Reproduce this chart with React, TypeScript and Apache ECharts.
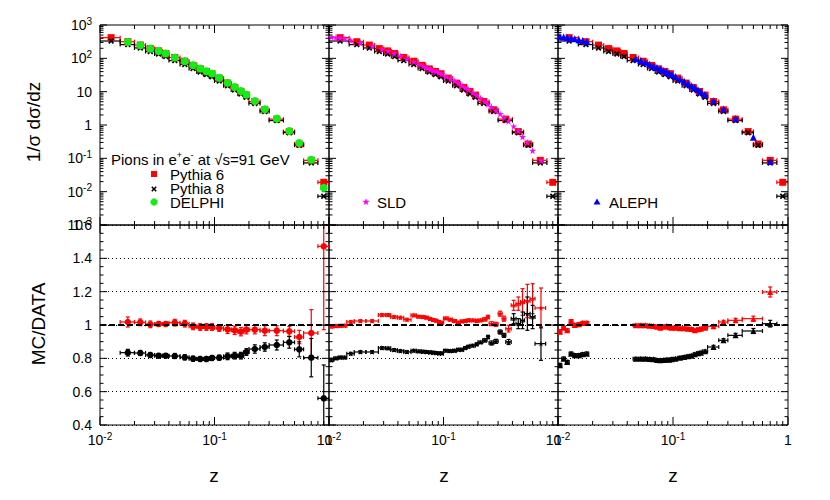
import React, { useEffect, useRef } from "react";
import * as echarts from "echarts";

const FONT = "'Liberation Sans', Arial, Helvetica, sans-serif";

// ---------------- MC spectra (same binning in the three upper panels) ----------------
const mcBinEdges = [0.01, 0.015, 0.02, 0.025, 0.03, 0.035, 0.04, 0.05, 0.06, 0.07, 0.08, 0.09, 0.1, 0.12, 0.14, 0.16, 0.18, 0.2, 0.25, 0.3, 0.4, 0.5, 0.6, 0.8, 1.0];
const mcZ = [0.0125, 0.0175, 0.0225, 0.0275, 0.0325, 0.0375, 0.045, 0.055, 0.065, 0.075, 0.085, 0.095, 0.11, 0.13, 0.15, 0.17, 0.19, 0.225, 0.275, 0.35, 0.45, 0.55, 0.7, 0.9];
const pythia6Spectrum = [417, 315, 250, 196, 167, 140, 106, 82, 61.5, 48.4, 40.5, 34.6, 25.5, 18.1, 13.4, 10.1, 7.9, 5.05, 2.85, 1.5, 0.635, 0.269, 0.087, 0.0191];
const pythia8Spectrum = [331, 258, 205, 160, 135, 113, 85.5, 65.3, 49.5, 39, 32.6, 28.1, 20.9, 15.1, 11.3, 8.57, 6.79, 4.45, 2.56, 1.36, 0.59, 0.248, 0.073, 0.0073];

// ---------------- DELPHI ----------------
const delphiBinEdges = [0.015, 0.02, 0.025, 0.03, 0.035, 0.04, 0.05, 0.06, 0.07, 0.08, 0.09, 0.1, 0.12, 0.14, 0.16, 0.18, 0.2, 0.25, 0.3, 0.4, 0.5, 0.6, 0.8, 1.0];
const delphiZ = [0.0175, 0.0225, 0.0275, 0.0325, 0.0375, 0.045, 0.055, 0.065, 0.075, 0.085, 0.095, 0.11, 0.13, 0.15, 0.17, 0.19, 0.225, 0.275, 0.35, 0.45, 0.55, 0.7, 0.9];
const delphiSpectrum = [309, 246, 195, 166, 139, 105, 81, 62, 49, 41, 35, 26, 18.6, 13.8, 10.5, 8.1, 5.2, 2.95, 1.55, 0.66, 0.29, 0.091, 0.013];
const delphiRatioP6 = [1.018, 1.016, 1.004, 1.006, 1.006, 1.014, 1.008, 0.992, 0.988, 0.988, 0.988, 0.982, 0.974, 0.968, 0.96, 0.972, 0.972, 0.966, 0.966, 0.962, 0.928, 0.952, 1.472];
const delphiRatioP6Err = [0.03, 0.02, 0.02, 0.015, 0.015, 0.02, 0.02, 0.02, 0.02, 0.02, 0.02, 0.02, 0.025, 0.025, 0.025, 0.025, 0.025, 0.03, 0.03, 0.03, 0.04, 0.14, 0.5];
const delphiRatioP8 = [0.834, 0.832, 0.82, 0.816, 0.816, 0.814, 0.806, 0.798, 0.796, 0.796, 0.802, 0.804, 0.812, 0.816, 0.816, 0.838, 0.856, 0.868, 0.88, 0.896, 0.854, 0.804, 0.56];
const delphiRatioP8Err = [0.02, 0.015, 0.015, 0.012, 0.012, 0.015, 0.015, 0.015, 0.015, 0.015, 0.015, 0.015, 0.02, 0.02, 0.02, 0.02, 0.025, 0.025, 0.03, 0.035, 0.045, 0.115, 0.2];

// ---------------- SLD ----------------
const sldBinEdges = [0.01, 0.011, 0.012, 0.013, 0.0143, 0.0166, 0.021, 0.027, 0.031, 0.0346, 0.0395, 0.045, 0.052, 0.058, 0.064, 0.069, 0.074, 0.079, 0.084, 0.089, 0.094, 0.1, 0.11, 0.12, 0.13, 0.14, 0.15, 0.16, 0.17, 0.19, 0.2, 0.22, 0.24, 0.25, 0.275, 0.3, 0.325, 0.35, 0.39, 0.43, 0.47, 0.51, 0.57, 0.63, 0.78];
const sldZ = [0.0105, 0.0115, 0.0125, 0.0137, 0.0155, 0.0188, 0.0238, 0.029, 0.0328, 0.037, 0.042, 0.048, 0.055, 0.061, 0.0665, 0.0715, 0.0765, 0.0815, 0.0865, 0.0915, 0.097, 0.105, 0.115, 0.125, 0.135, 0.145, 0.155, 0.165, 0.18, 0.195, 0.21, 0.23, 0.245, 0.2625, 0.2875, 0.3125, 0.3375, 0.37, 0.41, 0.45, 0.49, 0.54, 0.6, 0.71];
const sldSpectrum = [440, 420, 400, 375, 345, 290, 232, 190, 163, 140, 117, 96, 79, 66, 58, 51, 46, 43, 40, 37, 33.5, 28.5, 24.5, 21, 18, 15.2, 13.2, 11.5, 9.3, 7.7, 6.4, 4.95, 4.2, 3.5, 2.7, 2.15, 1.7, 1.3, 0.92, 0.66, 0.44, 0.3, 0.17, 0.085];
const sldRatioP6 = [0.992, 0.994, 0.995, 0.996, 1.018, 1.024, 1.024, 1.06, 1.06, 1.048, 1.044, 1.032, 1.058, 1.05, 1.048, 1.044, 1.036, 1.03, 1.026, 1.018, 1.014, 1.04, 1.032, 1.024, 1.014, 1.022, 1.024, 1.028, 1.028, 1.024, 1.028, 1.034, 1.048, 1.008, 1.004, 1.068, 1.038, 0.978, 1.118, 1.128, 1.138, 1.144, 1.158, 1.102];
const sldRatioP6Err = [
  0.01, 0.008, 0.008, 0.008, 0.008, 0.008, 0.008, 0.008, 0.008, 0.008,
  0.008, 0.008, 0.008, 0.008, 0.008, 0.008, 0.008, 0.008, 0.008, 0.008,
  0.008, 0.008, 0.008, 0.008, 0.008, 0.008, 0.008, 0.008, 0.008, 0.008,
  0.008, 0.01, 0.01, 0.012, 0.012, 0.015, 0.015, 0.02, 0.03, 0.04,
  0.08, 0.1, 0.09, 0.12,
];
const sldRatioP8 = [0.79, 0.8, 0.805, 0.805, 0.828, 0.838, 0.838, 0.862, 0.86, 0.85, 0.844, 0.838, 0.846, 0.842, 0.84, 0.838, 0.836, 0.834, 0.832, 0.83, 0.83, 0.846, 0.844, 0.846, 0.852, 0.852, 0.862, 0.87, 0.876, 0.884, 0.896, 0.908, 0.928, 0.892, 0.902, 0.958, 0.938, 0.898, 1.038, 1.008, 1.028, 1.068, 1.048, 0.888];
const sldRatioP8Err = [
  0.01, 0.008, 0.008, 0.008, 0.008, 0.008, 0.008, 0.008, 0.008, 0.008,
  0.008, 0.008, 0.008, 0.008, 0.008, 0.008, 0.008, 0.008, 0.008, 0.008,
  0.008, 0.008, 0.008, 0.008, 0.008, 0.008, 0.008, 0.008, 0.008, 0.008,
  0.008, 0.01, 0.01, 0.012, 0.012, 0.012, 0.012, 0.015, 0.03, 0.03,
  0.05, 0.1, 0.07, 0.1,
];

// ---------------- ALEPH (two z ranges) ----------------
const alephLowBinEdges = [0.01, 0.0108, 0.0116, 0.0125, 0.0135, 0.0146, 0.0158, 0.0171, 0.0185];
const alephLowZ = [0.0104, 0.0112, 0.012, 0.013, 0.014, 0.0152, 0.0164, 0.0178];
const alephLowSpectrum = [450, 435, 420, 400, 385, 362, 340, 318];
const alephLowRatioP6 = [0.96, 0.984, 0.968, 1.022, 1.0, 1.004, 1.012, 1.012];
const alephLowRatioP6Err = [0.012, 0.01, 0.01, 0.01, 0.01, 0.01, 0.01, 0.01];
const alephLowRatioP8 = [0.758, 0.798, 0.778, 0.828, 0.818, 0.818, 0.824, 0.828];
const alephLowRatioP8Err = [0.012, 0.01, 0.01, 0.01, 0.01, 0.01, 0.01, 0.01];

const alephHighBinEdges = [0.045, 0.05, 0.055, 0.06, 0.065, 0.07, 0.075, 0.08, 0.085, 0.09, 0.095, 0.1, 0.11, 0.12, 0.13, 0.14, 0.15, 0.16, 0.17, 0.18, 0.2, 0.25, 0.3, 0.4, 0.6, 0.8];
const alephHighZ = [0.0475, 0.0525, 0.0575, 0.0625, 0.0675, 0.0725, 0.0775, 0.0825, 0.0875, 0.0925, 0.0975, 0.105, 0.115, 0.125, 0.135, 0.145, 0.155, 0.165, 0.175, 0.19, 0.225, 0.275, 0.35, 0.5, 0.7];
const alephHighSpectrum = [97, 86, 76, 67, 59, 53, 48, 43, 39, 36, 33, 28.5, 24, 20.5, 17.5, 15, 13, 11.4, 10, 8.2, 5.3, 3.0, 1.58, 0.43, 0.08];
const alephHighRatioP6 = [0.998, 0.998, 0.998, 0.996, 0.994, 0.99, 0.984, 0.99, 0.994, 0.986, 0.984, 0.984, 0.98, 0.98, 0.978, 0.976, 0.968, 0.974, 0.978, 0.984, 0.992, 1.018, 1.028, 1.038, 1.198];
const alephHighRatioP6Err = [0.008, 0.008, 0.008, 0.008, 0.008, 0.008, 0.008, 0.008, 0.008, 0.008, 0.008, 0.008, 0.008, 0.008, 0.008, 0.008, 0.008, 0.008, 0.008, 0.008, 0.01, 0.01, 0.012, 0.015, 0.03];
const alephHighRatioP8 = [0.798, 0.798, 0.798, 0.796, 0.794, 0.79, 0.788, 0.79, 0.792, 0.792, 0.794, 0.798, 0.804, 0.808, 0.812, 0.816, 0.824, 0.83, 0.834, 0.842, 0.868, 0.908, 0.938, 0.964, 1.008];
const alephHighRatioP8Err = [0.008, 0.008, 0.008, 0.008, 0.008, 0.008, 0.008, 0.008, 0.008, 0.008, 0.008, 0.008, 0.008, 0.008, 0.008, 0.008, 0.008, 0.008, 0.008, 0.008, 0.01, 0.01, 0.012, 0.015, 0.02];

// ---------------- ticks ----------------
const xMajorTicks = [0.01, 0.1, 1];
const xMinorTicks = [0.02, 0.03, 0.04, 0.05, 0.06, 0.07, 0.08, 0.09, 0.2, 0.3, 0.4, 0.5, 0.6, 0.7, 0.8, 0.9];
const yTopMajorTicks = [0.001, 0.01, 0.1, 1, 10, 100, 1000];
const logMantissas = [2, 3, 4, 5, 6, 7, 8, 9];
const yTopDecades = [0.001, 0.01, 0.1, 1, 10, 100];
const yTopMinorTicks = yTopDecades.flatMap((d) => logMantissas.map((m) => m * d));
const yBotMajorTicks = [0.4, 0.6, 0.8, 1.0, 1.2, 1.4, 1.6];
const yBotMinorTicks = [0.45, 0.5, 0.55, 0.65, 0.7, 0.75, 0.85, 0.9, 0.95, 1.05, 1.1, 1.15, 1.25, 1.3, 1.35, 1.45, 1.5, 1.55];

// ---------------- layout ----------------
const PANEL_LEFT = [100, 329, 558];
const PANEL_WIDTH = [229, 229, 230];
const TOP_Y = 25;
const BOT_Y = 225;
const PANEL_H = 200;

const RED = "#ff0000";
const BLACK = "#000000";
const GREEN = "#11ee11";
const MAGENTA = "#ff00ff";
const BLUE = "#0000ff";

const X_SYMBOL = "path://M0,2 L2,0 L5,3 L8,0 L10,2 L7,5 L10,8 L8,10 L5,7 L2,10 L0,8 L3,5 Z";
const STAR_SYMBOL = "path://M50,2 L61,36 L97,36 L68,57 L79,91 L50,70 L21,91 L32,57 L3,36 L39,36 Z";

const LABEL_SIZE = 14;
const BAR_W = 1.2;

type Pt = number[];

function buildPoints(z: number[], y: number[], edges: number[], err?: number[]): Pt[] {
  return z.map((zi, i) => [zi, y[i], edges[i], edges[i + 1], err ? err[i] : 0]);
}

function errorSeries(idx: number, pts: Pt[], color: string) {
  return {
    type: "custom",
    xAxisIndex: idx,
    yAxisIndex: idx,
    clip: true,
    silent: true,
    encode: { x: 0, y: 1 },
    dimensions: ["z", "v", "lo", "hi", "err"],
    data: pts,
    renderItem: (params: any, api: any) => {
      const z = api.value(0);
      const v = api.value(1);
      const lo = api.value(2);
      const hi = api.value(3);
      const e = api.value(4);
      const c = api.coord([z, v]);
      const l = api.coord([lo, v]);
      const r = api.coord([hi, v]);
      const style = { stroke: color, lineWidth: BAR_W };
      const ch: any[] = [
        { type: "line", shape: { x1: l[0], y1: c[1], x2: r[0], y2: c[1] }, style },
        { type: "line", shape: { x1: l[0], y1: c[1] - 2, x2: l[0], y2: c[1] + 2 }, style },
        { type: "line", shape: { x1: r[0], y1: c[1] - 2, x2: r[0], y2: c[1] + 2 }, style },
      ];
      if (e > 0) {
        const t = api.coord([z, v + e]);
        const b = api.coord([z, v - e]);
        ch.push({ type: "line", shape: { x1: c[0], y1: t[1], x2: c[0], y2: b[1] }, style });
        ch.push({ type: "line", shape: { x1: c[0] - 2, y1: t[1], x2: c[0] + 2, y2: t[1] }, style });
        ch.push({ type: "line", shape: { x1: c[0] - 2, y1: b[1], x2: c[0] + 2, y2: b[1] }, style });
      }
      return { type: "group", children: ch };
    },
  };
}

function markerSeries(idx: number, pts: Pt[], symbol: string, size: number, color: string, extra: any = {}) {
  return {
    type: "scatter",
    xAxisIndex: idx,
    yAxisIndex: idx,
    data: pts.map((p) => [p[0], p[1]]),
    symbol,
    symbolSize: size,
    itemStyle: { color, opacity: 1 },
    silent: true,
    ...extra,
  };
}

function tickSeries(idx: number, top: boolean) {
  const yMajor = top ? yTopMajorTicks : yBotMajorTicks;
  const yMinor = top ? yTopMinorTicks : yBotMinorTicks;
  return {
    type: "custom",
    xAxisIndex: idx,
    yAxisIndex: idx,
    silent: true,
    clip: false,
    encode: { x: 0, y: 1 },
    data: [[0.1, 1]],
    renderItem: (params: any, api: any) => {
      const cs = params.coordSys;
      const L = cs.x;
      const T = cs.y;
      const R = cs.x + cs.width;
      const B = cs.y + cs.height;
      const ch: any[] = [];
      const style = { stroke: "#000", lineWidth: 1 };
      const seg = (x1: number, y1: number, x2: number, y2: number) =>
        ch.push({ type: "line", shape: { x1, y1, x2, y2 }, style });
      const xt = (vals: number[], len: number) =>
        vals.forEach((v) => {
          const x = api.coord([v, 1])[0];
          seg(x, B, x, B - len);
          seg(x, T, x, T + len);
        });
      const yt = (vals: number[], len: number) =>
        vals.forEach((v) => {
          const y = api.coord([0.1, v])[1];
          seg(L, y, L + len, y);
          seg(R, y, R - len, y);
        });
      xt(xMajorTicks, 8);
      xt(xMinorTicks, 4);
      yt(yMajor, 7);
      yt(yMinor, 3.5);
      return { type: "group", children: ch };
    },
  };
}

const supRich = {
  sup: { fontSize: 10, lineHeight: 10, verticalAlign: "top", fontFamily: FONT, color: "#000" },
};

function logLabel(v: number) {
  const e = Math.round(Math.log10(v));
  if (e === 0) return "1";
  if (e === 1) return "10";
  return `10{sup|${e}}`;
}

function ratioLabel(v: number) {
  return String(+Number(v).toFixed(1));
}

function starPoints(cx: number, cy: number, r: number) {
  const pts: number[][] = [];
  for (let k = 0; k < 10; k++) {
    const a = -Math.PI / 2 + (k * Math.PI) / 5;
    const rr = k % 2 === 0 ? r : r * 0.42;
    pts.push([cx + rr * Math.cos(a), cy + rr * Math.sin(a)]);
  }
  return pts;
}

function xMarkPoints(cx: number, cy: number, s: number) {
  const tpl = [[0, 2], [2, 0], [5, 3], [8, 0], [10, 2], [7, 5], [10, 8], [8, 10], [5, 7], [2, 10], [0, 8], [3, 5]];
  return tpl.map(([x, y]) => [cx + ((x - 5) * s) / 10, cy + ((y - 5) * s) / 10]);
}

function buildOption() {
  const grids: any[] = [];
  const xAxes: any[] = [];
  const yAxes: any[] = [];
  for (let row = 0; row < 2; row++) {
    for (let i = 0; i < 3; i++) {
      const idx = row * 3 + i;
      grids.push({
        left: PANEL_LEFT[i],
        top: row === 0 ? TOP_Y : BOT_Y,
        width: PANEL_WIDTH[i],
        height: PANEL_H,
        show: true,
        borderColor: "#000",
        borderWidth: 1,
        backgroundColor: "transparent",
      });
      xAxes.push({
        gridIndex: idx,
        type: "log",
        logBase: 10,
        min: 0.01,
        max: 1,
        axisLine: { show: false },
        axisTick: { show: false },
        splitLine: { show: false },
        axisLabel: {
          show: row === 1,
          margin: 6,
          color: "#000",
          fontFamily: FONT,
          fontSize: LABEL_SIZE,
          lineHeight: 18,
          formatter: logLabel,
          rich: supRich,
        },
      });
      if (row === 0) {
        yAxes.push({
          gridIndex: idx,
          type: "log",
          logBase: 10,
          min: 0.001,
          max: 1000,
          axisLine: { show: false },
          axisTick: { show: false },
          splitLine: { show: false },
          axisLabel: {
            show: i === 0,
            margin: 8,
            color: "#000",
            fontFamily: FONT,
            fontSize: LABEL_SIZE,
            lineHeight: 18,
            formatter: logLabel,
            rich: supRich,
          },
        });
      } else {
        yAxes.push({
          gridIndex: idx,
          type: "value",
          min: 0.4,
          max: 1.6,
          interval: 0.2,
          axisLine: { show: false },
          axisTick: { show: false },
          splitLine: { show: true, lineStyle: { color: "#000", width: 1, type: [1, 3] } },
          axisLabel: {
            show: i === 0,
            margin: 8,
            color: "#000",
            fontFamily: FONT,
            fontSize: LABEL_SIZE,
            formatter: ratioLabel,
          },
        });
      }
    }
  }

  const p6Pts = buildPoints(mcZ, pythia6Spectrum, mcBinEdges);
  const p8Pts = buildPoints(mcZ, pythia8Spectrum, mcBinEdges);

  const dataSets = [
    {
      spectrum: buildPoints(delphiZ, delphiSpectrum, delphiBinEdges),
      r6: buildPoints(delphiZ, delphiRatioP6, delphiBinEdges, delphiRatioP6Err),
      r8: buildPoints(delphiZ, delphiRatioP8, delphiBinEdges, delphiRatioP8Err),
      symbol: "circle", size: 8, color: GREEN, rSymbol: "circle", rSize: 6.5,
    },
    {
      spectrum: buildPoints(sldZ, sldSpectrum, sldBinEdges),
      r6: buildPoints(sldZ, sldRatioP6, sldBinEdges, sldRatioP6Err),
      r8: buildPoints(sldZ, sldRatioP8, sldBinEdges, sldRatioP8Err),
      symbol: STAR_SYMBOL, size: 7, color: MAGENTA, rSymbol: STAR_SYMBOL, rSize: 5.5,
    },
    {
      spectrum: buildPoints(alephLowZ, alephLowSpectrum, alephLowBinEdges).concat(
        buildPoints(alephHighZ, alephHighSpectrum, alephHighBinEdges)
      ),
      r6: buildPoints(alephLowZ, alephLowRatioP6, alephLowBinEdges, alephLowRatioP6Err).concat(
        buildPoints(alephHighZ, alephHighRatioP6, alephHighBinEdges, alephHighRatioP6Err)
      ),
      r8: buildPoints(alephLowZ, alephLowRatioP8, alephLowBinEdges, alephLowRatioP8Err).concat(
        buildPoints(alephHighZ, alephHighRatioP8, alephHighBinEdges, alephHighRatioP8Err)
      ),
      symbol: "triangle", size: 7, color: BLUE, rSymbol: "triangle", rSize: 6,
    },
  ];

  const series: any[] = [];
  dataSets.forEach((ds, i) => {
    // upper panel
    series.push(errorSeries(i, p6Pts, RED));
    series.push(markerSeries(i, p6Pts, "rect", 7, RED));
    series.push(errorSeries(i, p8Pts, BLACK));
    series.push(markerSeries(i, p8Pts, X_SYMBOL, 6, BLACK));
    series.push(markerSeries(i, ds.spectrum, ds.symbol, ds.size, ds.color));
    series.push(tickSeries(i, true));
    // ratio panel
    const j = i + 3;
    series.push(errorSeries(j, ds.r6, RED));
    series.push(
      markerSeries(j, ds.r6, ds.rSymbol, ds.rSize, RED, {
        markLine: {
          silent: true,
          symbol: ["none", "none"],
          label: { show: false },
          lineStyle: { color: "#000", width: 2, type: [6, 3] },
          data: [{ yAxis: 1 }],
        },
      })
    );
    series.push(errorSeries(j, ds.r8, BLACK));
    series.push(markerSeries(j, ds.r8, ds.rSymbol, ds.rSize, BLACK));
    series.push(tickSeries(j, false));
  });

  const txt = (text: string, x: number, y: number, size: number, extra: any = {}) => ({
    type: "text",
    x,
    y,
    silent: true,
    ...extra,
    style: {
      text,
      fill: "#000",
      font: `${size}px ${FONT}`,
      fontSize: size,
      fontFamily: FONT,
      textAlign: extra.align || "left",
      align: extra.align || "left",
      textVerticalAlign: "middle",
      verticalAlign: "middle",
      rich: {
        sup: { fontSize: 9, lineHeight: 9, verticalAlign: "top", fontFamily: FONT, fill: "#000" },
      },
      lineHeight: 17,
    },
  });

  const graphic: any[] = [
    txt("1/σ dσ/dz", 33, 122, 19, { rotation: Math.PI / 2, align: "center" }),
    txt("MC/DATA", 38, 324, 19, { rotation: Math.PI / 2, align: "center" }),
    txt("z", 214, 475, 19, { align: "center" }),
    txt("z", 444, 475, 19, { align: "center" }),
    txt("z", 673, 475, 19, { align: "center" }),
    txt("Pions in e{sup|+}e{sup|-} at √s=91 GeV", 111, 159, 15),
    txt("Pythia 6", 170, 174, 15),
    txt("Pythia 8", 170, 188.5, 15),
    txt("DELPHI", 170, 202.5, 15),
    txt("SLD", 377, 202.5, 15),
    txt("ALEPH", 609, 202.5, 15),
    { type: "rect", silent: true, shape: { x: 151, y: 171, width: 6, height: 6 }, style: { fill: RED } },
    { type: "polygon", silent: true, shape: { points: xMarkPoints(154, 189, 5.5) }, style: { fill: BLACK } },
    { type: "circle", silent: true, shape: { cx: 154, cy: 202, r: 3.6 }, style: { fill: GREEN } },
    { type: "polygon", silent: true, shape: { points: starPoints(366, 202, 3.8) }, style: { fill: MAGENTA } },
    { type: "polygon", silent: true, shape: { points: [[597, 198.5], [600.5, 204.5], [593.5, 204.5]] }, style: { fill: BLUE } },
  ];

  return {
    animation: false,
    backgroundColor: "#ffffff",
    grid: grids,
    xAxis: xAxes,
    yAxis: yAxes,
    series,
    graphic,
  };
}

export default function App() {
  const ref = useRef<HTMLDivElement>(null);
  useEffect(() => {
    if (!ref.current) return;
    const chart = echarts.init(ref.current, null, { renderer: "svg" });
    chart.setOption(buildOption() as any);
    return () => chart.dispose();
  }, []);
  return (
    <div
      ref={ref}
      style={{ position: "fixed", left: 0, top: 0, width: 830, height: 500, background: "#fff" }}
    />
  );
}
